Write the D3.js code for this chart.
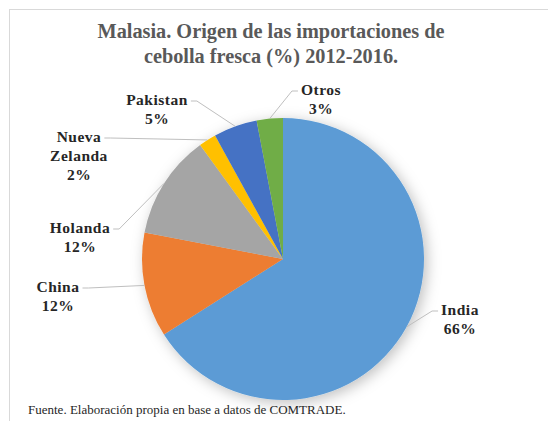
<!DOCTYPE html>
<html>
<head>
<meta charset="utf-8">
<script src="https://cdn.jsdelivr.net/npm/d3@7"></script>
<style>
    body { margin: 0; background: #fff; }
    text { font-family: "Liberation Serif", "Times New Roman", Tinos, "DejaVu Serif", serif; }
    .title-text { font-weight: bold; font-size: 20.3px; fill: #595959; }
    .slice-label { font-weight: bold; font-size: 15.5px; fill: #262626; letter-spacing: 0.5px; }
    .leader { fill: none; stroke: #bfbfbf; stroke-width: 1; }
    .source-text { font-size: 13px; fill: #262626; }
</style>
</head>
<body>
<svg id="svg"></svg>
<script>
// data, clockwise from 12 o'clock
const countries = ['India', 'China', 'Holanda', 'Nueva Zelanda', 'Pakistan', 'Otros'];
const shares = [66, 12, 12, 2, 5, 3];
const colors = ['#5B9BD5', '#ED7D31', '#A5A5A5', '#FFC000', '#4472C4', '#70AD47'];
const titleLines = ['Malasia. Origen de las importaciones de', 'cebolla fresca (%) 2012-2016.'];
const sourceNote = 'Fuente. Elaboración propia en base a datos de COMTRADE.';

// where excel left the labels (centre x, first baseline y, side the leader leaves from)
const labelLayout = {
    'India':         {x: 460, y: 315, lines: ['India'], side: 'left'},
    'China':         {x: 58,  y: 292, lines: ['China'], side: 'right'},
    'Holanda':       {x: 80,  y: 233, lines: ['Holanda'], side: 'right'},
    'Nueva Zelanda': {x: 79,  y: 142, lines: ['Nueva', 'Zelanda'], side: 'right'},
    'Pakistan':      {x: 157, y: 105, lines: ['Pakistan'], side: 'right'},
    'Otros':         {x: 321, y: 95,  lines: ['Otros'], side: 'left'},
};

const width = 548, height = 421;
const cx = 283, cy = 259, radius = 141;
const lineGap = 19;

const svg = d3.select('#svg')
    .attr('width', width)
    .attr('height', height);

const defs = svg.append('defs');
const shadow = defs.append('filter')
    .attr('id', 'pie-shadow')
    .attr('x', '-20%').attr('y', '-20%')
    .attr('width', '140%').attr('height', '140%');
shadow.append('feDropShadow')
    .attr('dx', 3).attr('dy', 3)
    .attr('stdDeviation', 7)
    .attr('flood-color', '#000')
    .attr('flood-opacity', 0.25);

// chart frame
svg.append('rect')
    .attr('x', 9.5).attr('y', 9.5)
    .attr('width', 600).attr('height', 450)
    .attr('fill', '#fff')
    .attr('stroke', '#d9d9d9');

svg.append('g')
    .selectAll('text')
    .data(titleLines)
    .join('text')
    .attr('class', 'title-text')
    .attr('x', 271)
    .attr('y', (d, i) => 38 + i * 25)
    .attr('text-anchor', 'middle')
    .text(d => d);

const data = countries.map((c, i) => ({name: c, value: shares[i], color: colors[i]}));

const pie = d3.pie()
    .value(d => d.value)
    .sort(null);
const arcs = pie(data);

const arc = d3.arc()
    .innerRadius(0)
    .outerRadius(radius);

const pieGroup = svg.append('g')
    .attr('transform', 'translate(' + cx + ',' + cy + ')');

pieGroup.append('g')
    .attr('filter', 'url(#pie-shadow)')
    .selectAll('path')
    .data(arcs)
    .join('path')
    .attr('d', arc)
    .attr('fill', d => d.data.color);

const labelGroup = svg.append('g');

arcs.forEach(a => {
    const lay = labelLayout[a.data.name];
    const txt = labelGroup.append('text')
        .attr('class', 'slice-label')
        .attr('text-anchor', 'middle');
    const rows = lay.lines.concat([a.data.value + '%']);
    rows.forEach((r, i) => {
        txt.append('tspan')
            .attr('x', lay.x)
            .attr('y', lay.y + i * lineGap)
            .text(r);
    });

    // leader line from the first row to the arc edge at mid angle
    const firstWidth = txt.select('tspan').node().getComputedTextLength();
    const sx = lay.side === 'left' ? lay.x - firstWidth / 2 - 3 : lay.x + firstWidth / 2 + 3;
    const sy = lay.y - 4;
    const mid = (a.startAngle + a.endAngle) / 2;
    const ex = cx + radius * Math.sin(mid);
    const ey = cy - radius * Math.cos(mid);
    const kx = lay.side === 'left' ? sx - 6 : sx + 6;
    labelGroup.insert('polyline', 'text')
        .attr('class', 'leader')
        .attr('points', [[sx, sy], [kx, sy], [ex, ey]].map(p => p.join(',')).join(' '));
});

svg.append('text')
    .attr('class', 'source-text')
    .attr('x', 28)
    .attr('y', 414)
    .text(sourceNote);
</script>
</body>
</html>
